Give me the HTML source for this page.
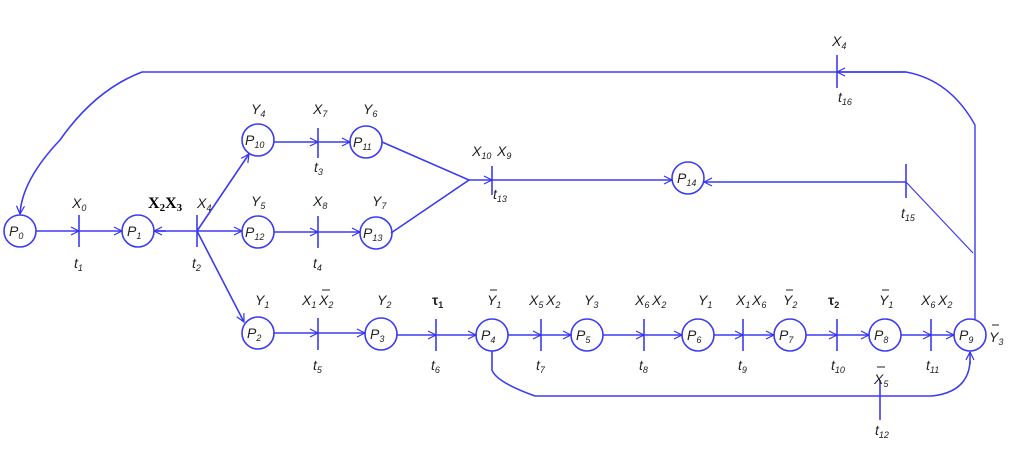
<!DOCTYPE html>
<html><head><style>
html,body{margin:0;padding:0;background:#fff;}
svg{display:block;}
text{font-family:"Liberation Sans",sans-serif;font-style:italic;font-size:14px;fill:#222;}
.s{font-size:9px;}
.b{font-family:"Liberation Serif",serif;font-style:normal;font-weight:bold;fill:#000;font-size:16px;}
.b .s{font-size:11px;}
</style></head><body>
<svg width="1026" height="455" viewBox="0 0 1026 455" xmlns="http://www.w3.org/2000/svg">
<defs>
<marker id="a" markerWidth="10" markerHeight="10" refX="9" refY="5" orient="auto" markerUnits="userSpaceOnUse">
<path d="M1,1 L9,5 L1,9" fill="none" stroke="#3333ee" stroke-width="1.2"/></marker>
</defs>
<g stroke="#3b3bf0" stroke-width="1.6" fill="none">
<circle cx="20" cy="231" r="16"/>
<circle cx="138" cy="231" r="16"/>
<circle cx="258" cy="140" r="16"/>
<circle cx="366" cy="142" r="16"/>
<circle cx="258" cy="232" r="16"/>
<circle cx="376" cy="233" r="16"/>
<circle cx="688" cy="178" r="16"/>
<circle cx="258" cy="333" r="16"/>
<circle cx="381" cy="334" r="16"/>
<circle cx="492" cy="335" r="16"/>
<circle cx="587" cy="335" r="16"/>
<circle cx="698" cy="335" r="16"/>
<circle cx="790" cy="335" r="16"/>
<circle cx="885" cy="335" r="16"/>
<circle cx="970" cy="335" r="16"/>
<path d="M79 215V247M197 215V247M318 128V158M318 216V248M492 166V195M906 164V198M837 55V88M318 318V350M436 319V351M541 319V351M644 319V351M743 319V351M837 319V351M931 319V351M880 380V420"/>
<path d="M36 231H79" marker-end="url(#a)"/>
<path d="M79 231H122" marker-end="url(#a)"/>
<path d="M154 231H197"/>
<path d="M166 231H154" marker-end="url(#a)"/>
<path d="M197 231H242" marker-end="url(#a)"/>
<path d="M197 231L249 154" marker-end="url(#a)"/>
<path d="M197 231L244 322" marker-end="url(#a)"/>
<path d="M274 142H318" marker-end="url(#a)"/>
<path d="M318 142H350" marker-end="url(#a)"/>
<path d="M274 232H318" marker-end="url(#a)"/>
<path d="M318 232H360" marker-end="url(#a)"/>
<path d="M382 142L469 180L391 233"/>
<path d="M469 180H492" marker-end="url(#a)"/>
<path d="M492 180H672" marker-end="url(#a)"/>
<path d="M906 182H704" marker-end="url(#a)"/>
<path d="M906 182L973 253" stroke-width="1.2"/>
<path d="M975 320V125Q950 80 906 72H837" stroke-width="1.4"/>
<path d="M906 72H837" marker-end="url(#a)"/>
<path d="M837 72H142Q95 90 60 140Q22 180 20 214" marker-end="url(#a)"/>
<path d="M274 333H318" marker-end="url(#a)"/>
<path d="M318 333H365" marker-end="url(#a)"/>
<path d="M397 335H436" marker-end="url(#a)"/>
<path d="M436 335H476" marker-end="url(#a)"/>
<path d="M508 335H541" marker-end="url(#a)"/>
<path d="M541 335H571" marker-end="url(#a)"/>
<path d="M603 335H644" marker-end="url(#a)"/>
<path d="M644 335H682" marker-end="url(#a)"/>
<path d="M714 335H743" marker-end="url(#a)"/>
<path d="M743 335H774" marker-end="url(#a)"/>
<path d="M806 335H837" marker-end="url(#a)"/>
<path d="M837 335H869" marker-end="url(#a)"/>
<path d="M901 335H931" marker-end="url(#a)"/>
<path d="M931 335H954" marker-end="url(#a)"/>
<path d="M492 351V370Q496 382 535 396H932Q968 392 970 362"/>
<path d="M970 364V352" marker-end="url(#a)"/>
</g>
<g>
<text x="9" y="236">P<tspan class="s" dy="3">0</tspan></text>
<text x="127" y="236">P<tspan class="s" dy="3">1</tspan></text>
<text x="245" y="145">P<tspan class="s" dy="3">10</tspan></text>
<text x="353" y="147">P<tspan class="s" dy="3">11</tspan></text>
<text x="245" y="237">P<tspan class="s" dy="3">12</tspan></text>
<text x="363" y="238">P<tspan class="s" dy="3">13</tspan></text>
<text x="677" y="183">P<tspan class="s" dy="3">14</tspan></text>
<text x="247" y="338">P<tspan class="s" dy="3">2</tspan></text>
<text x="370" y="339">P<tspan class="s" dy="3">3</tspan></text>
<text x="481" y="340">P<tspan class="s" dy="3">4</tspan></text>
<text x="576" y="340">P<tspan class="s" dy="3">5</tspan></text>
<text x="687" y="340">P<tspan class="s" dy="3">6</tspan></text>
<text x="779" y="340">P<tspan class="s" dy="3">7</tspan></text>
<text x="874" y="340">P<tspan class="s" dy="3">8</tspan></text>
<text x="959" y="340">P<tspan class="s" dy="3">9</tspan></text>
<text x="74" y="268">t<tspan class="s" dy="3">1</tspan></text>
<text x="192" y="268">t<tspan class="s" dy="3">2</tspan></text>
<text x="314" y="172">t<tspan class="s" dy="3">3</tspan></text>
<text x="313" y="268">t<tspan class="s" dy="3">4</tspan></text>
<text x="493" y="199">t<tspan class="s" dy="3">13</tspan></text>
<text x="901" y="218">t<tspan class="s" dy="3">15</tspan></text>
<text x="838" y="102">t<tspan class="s" dy="3">16</tspan></text>
<text x="313" y="370">t<tspan class="s" dy="3">5</tspan></text>
<text x="431" y="370">t<tspan class="s" dy="3">6</tspan></text>
<text x="536" y="370">t<tspan class="s" dy="3">7</tspan></text>
<text x="639" y="370">t<tspan class="s" dy="3">8</tspan></text>
<text x="738" y="370">t<tspan class="s" dy="3">9</tspan></text>
<text x="831" y="370">t<tspan class="s" dy="3">10</tspan></text>
<text x="926" y="370">t<tspan class="s" dy="3">11</tspan></text>
<text x="875" y="435">t<tspan class="s" dy="3">12</tspan></text>
<text x="72" y="208">X<tspan class="s" dy="3">0</tspan></text>
<text class="b" x="148" y="208">X<tspan class="s" dy="3">2</tspan><tspan dy="-3">X</tspan><tspan class="s" dy="3">3</tspan></text>
<text x="197" y="208">X<tspan class="s" dy="3">4</tspan></text>
<text x="251" y="114">Y<tspan class="s" dy="3">4</tspan></text>
<text x="313" y="114">X<tspan class="s" dy="3">7</tspan></text>
<text x="363" y="114">Y<tspan class="s" dy="3">6</tspan></text>
<text x="251" y="206">Y<tspan class="s" dy="3">5</tspan></text>
<text x="313" y="206">X<tspan class="s" dy="3">8</tspan></text>
<text x="372" y="206">Y<tspan class="s" dy="3">7</tspan></text>
<text x="472" y="156">X<tspan class="s" dy="3">10</tspan></text>
<text x="497" y="156">X<tspan class="s" dy="3">9</tspan></text>
<text x="832" y="46">X<tspan class="s" dy="3">4</tspan></text>
<text x="255" y="305">Y<tspan class="s" dy="3">1</tspan></text>
<text x="302" y="305">X<tspan class="s" dy="3">1</tspan></text>
<text x="319" y="305">X<tspan class="s" dy="3">2</tspan></text>
<text x="377" y="305">Y<tspan class="s" dy="3">2</tspan></text>
<text x="432" y="305" style="font-style:normal;font-weight:bold">τ<tspan class="s" dy="3">1</tspan></text>
<text x="487" y="305">Y<tspan class="s" dy="3">1</tspan></text>
<text x="529" y="305">X<tspan class="s" dy="3">5</tspan></text>
<text x="546" y="305">X<tspan class="s" dy="3">2</tspan></text>
<text x="584" y="305">Y<tspan class="s" dy="3">3</tspan></text>
<text x="635" y="305">X<tspan class="s" dy="3">6</tspan></text>
<text x="652" y="305">X<tspan class="s" dy="3">2</tspan></text>
<text x="698" y="305">Y<tspan class="s" dy="3">1</tspan></text>
<text x="736" y="305">X<tspan class="s" dy="3">1</tspan></text>
<text x="752" y="305">X<tspan class="s" dy="3">6</tspan></text>
<text x="783" y="305">Y<tspan class="s" dy="3">2</tspan></text>
<text x="828" y="305" style="font-style:normal;font-weight:bold">τ<tspan class="s" dy="3">2</tspan></text>
<text x="879" y="305">Y<tspan class="s" dy="3">1</tspan></text>
<text x="921" y="305">X<tspan class="s" dy="3">6</tspan></text>
<text x="938" y="305">X<tspan class="s" dy="3">2</tspan></text>
<text x="989" y="342">Y<tspan class="s" dy="3">3</tspan></text>
<text x="874" y="384">X<tspan class="s" dy="3">5</tspan></text>
</g>
<g stroke="#222" stroke-width="1">
<path d="M322 290H330M490 290H497M786 290H793M882 290H889M992 325H999M877 367H885"/>
</g>
</svg>
</body></html>
